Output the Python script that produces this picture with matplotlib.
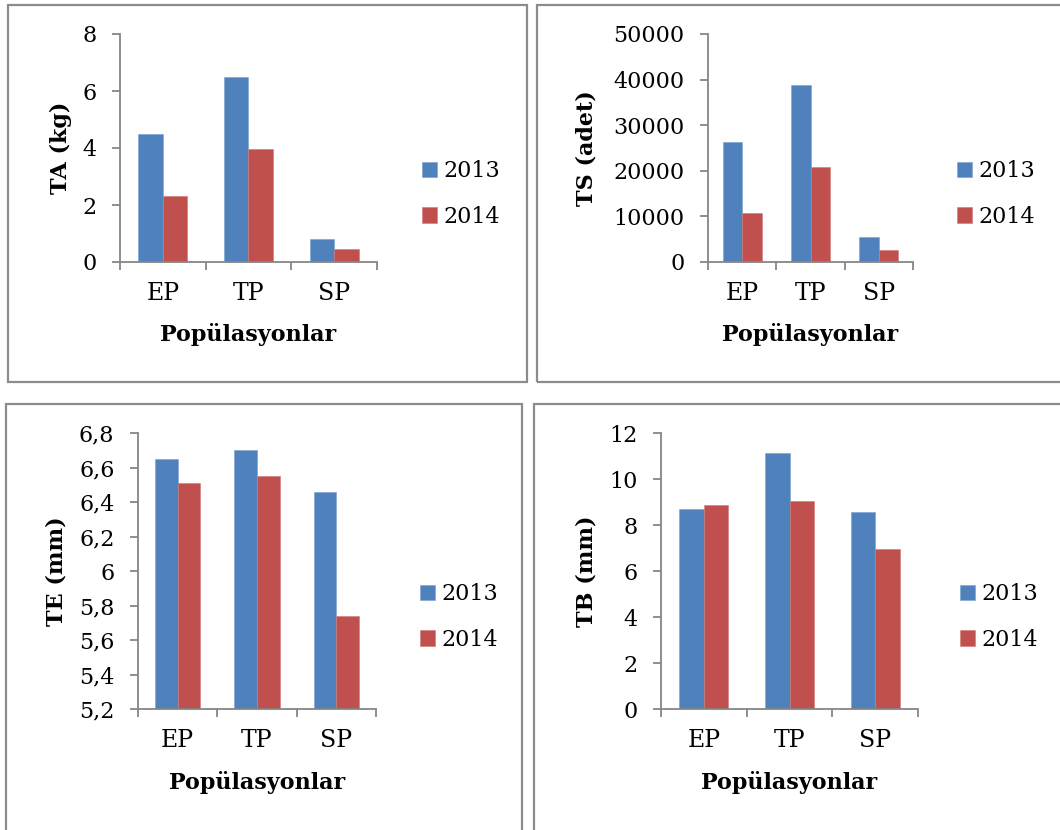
import numpy as np
import matplotlib
matplotlib.use("Agg")
import matplotlib.pyplot as plt
from matplotlib.patches import Rectangle
from matplotlib.ticker import FuncFormatter, FixedLocator

plt.rcParams['font.family'] = ['DejaVu Serif']

# data
categories = ["EP", "TP", "SP"]
years = ["2013", "2014"]

ta_2013 = [4.5, 6.5, 0.82]
ta_2014 = [2.3, 3.97, 0.45]

ts_2013 = [26400, 38800, 5500]
ts_2014 = [10800, 20800, 2700]

te_2013 = [6.65, 6.70, 6.46]
te_2014 = [6.51, 6.55, 5.74]

tb_2013 = [8.69, 11.15, 8.55]
tb_2014 = [8.87, 9.04, 6.95]

W, H = 1060, 830
BLUE = "#4F81BD"
RED = "#C0504D"
GREY = "#868686"

fig = plt.figure(figsize=(W / 100, H / 100), dpi=100)
fig.patch.set_facecolor("white")


def px_ax(x0, y0, x1, y1):
    # pixel box (top-left origin) -> figure axes
    return fig.add_axes([x0 / W, 1 - y1 / H, (x1 - x0) / W, (y1 - y0) / H])


def border(x0, y0, x1, y1):
    fig.patches.append(Rectangle((x0 / W, 1 - y1 / H), (x1 - x0) / W, (y1 - y0) / H,
                                 transform=fig.transFigure, fill=False,
                                 edgecolor="#8c8c8c", lw=1.6))


def panel(box, v13, v14, ylim, yticks, ylabel, ylab_x, xlab_y, leg_x, leg_y, fmt=None):
    x0, y0, x1, y1 = box
    ax = px_ax(x0, y0, x1, y1)
    pos = np.arange(len(categories))
    w = 1 / 3.5
    ax.bar(pos - w / 2, v13, w, color=BLUE, label=years[0], edgecolor="#7a9fcf", lw=0.4)
    ax.bar(pos + w / 2, v14, w, color=RED, label=years[1], edgecolor="#d07a78", lw=0.4)
    ax.set_xlim(-0.5, len(categories) - 0.5)
    ax.set_ylim(*ylim)
    ax.set_yticks(yticks)
    if fmt:
        ax.yaxis.set_major_formatter(FuncFormatter(fmt))
    ax.set_xticks(pos)
    ax.set_xticklabels(categories)
    ax.xaxis.set_minor_locator(FixedLocator(np.arange(-0.5, len(categories), 1.0)))
    ax.tick_params(axis="x", which="major", length=0, pad=14.5, labelsize=17)
    ax.tick_params(axis="x", which="minor", length=6, direction="out", color=GREY, width=1.3)
    ax.tick_params(axis="y", length=6, direction="out", color=GREY, width=1.3, labelsize=16, pad=11)
    for s in ["top", "right"]:
        ax.spines[s].set_visible(False)
    for s in ["left", "bottom"]:
        ax.spines[s].set_color(GREY)
        ax.spines[s].set_linewidth(1.3)
    ax.set_ylabel(ylabel, fontsize=16, fontweight="bold")
    ax.yaxis.set_label_coords((ylab_x - x0) / (x1 - x0), 0.5)
    ax.set_xlabel("Popülasyonlar", fontsize=16, fontweight="bold")
    ax.xaxis.set_label_coords(0.5, (y1 - xlab_y) / (y1 - y0))
    ax.xaxis.label.set_va("center")
    ax.yaxis.label.set_va("center")
    ax.legend(loc="center left", bbox_to_anchor=(leg_x / W, 1 - leg_y / H),
              bbox_transform=fig.transFigure, frameon=False, fontsize=16,
              handlelength=0.68, handleheight=0.68, handletextpad=0.3,
              labelspacing=1.05, borderpad=0, borderaxespad=0)
    return ax


def comma(v, p):
    s = ("%.1f" % v).rstrip("0").rstrip(".")
    return s.replace(".", ",")


border(8, 5, 527, 382)
border(537, 5, 1062, 382)
border(6, 404, 522, 832)
border(534, 404, 1062, 832)

panel((120, 34, 377, 262), ta_2013, ta_2014, (0, 8), [0, 2, 4, 6, 8], "TA (kg)",
      61, 335, 422, 194)
panel((708, 34, 913, 262), ts_2013, ts_2014, (0, 50000),
      [0, 10000, 20000, 30000, 40000, 50000], "TS (adet)", 587, 335, 957, 194)
panel((138, 433, 376, 709), te_2013, te_2014, (5.2, 6.8),
      [5.2, 5.4, 5.6, 5.8, 6.0, 6.2, 6.4, 6.6, 6.8], "TE (mm)", 57, 782, 420, 617, fmt=comma)
panel((661, 433, 918, 709), tb_2013, tb_2014, (0, 12), [0, 2, 4, 6, 8, 10, 12], "TB (mm)",
      586, 782, 960, 617)

fig.savefig("out.png", dpi=100, facecolor="white")
